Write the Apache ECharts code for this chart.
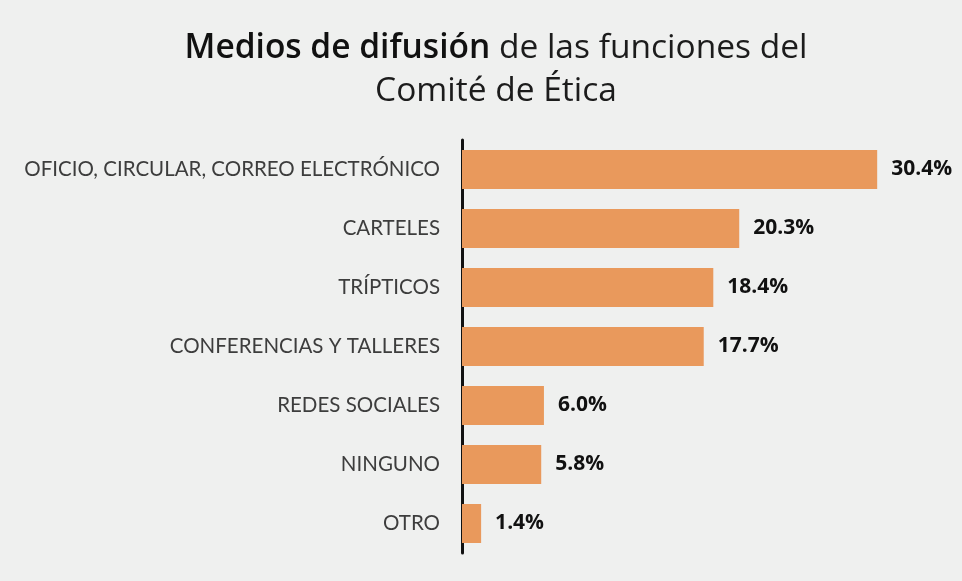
<!DOCTYPE html>
<html>
<head>
<meta charset="utf-8">
<title>Medios de difusión</title>
<script src="https://cdn.jsdelivr.net/npm/echarts@6/dist/echarts.min.js"></script>
<style>
  html, body { margin: 0; padding: 0; background: #eff0ef; }
  #chart { width: 962px; height: 581px; }
</style>
</head>
<body>
<div id="chart"></div>
<script>
// categorías, de arriba hacia abajo
var categorias = [
  'OFICIO, CIRCULAR, CORREO ELECTRÓNICO',
  'CARTELES',
  'TRÍPTICOS',
  'CONFERENCIAS Y TALLERES',
  'REDES SOCIALES',
  'NINGUNO',
  'OTRO'
]
// porcentajes
var porcentajes = [30.4, 20.3, 18.4, 17.7, 6.0, 5.8, 1.4]

var chart = echarts.init(document.getElementById('chart'))

chart.setOption({
  backgroundColor: '#eff0ef',
  title: {
    text: '{b|Medios de difusión} de las funciones del\nComité de Ética',
    left: 491,
    top: 22,
    textAlign: 'center',
    textStyle: {
      fontFamily: 'Open Sans',
      fontSize: 33.5,
      fontWeight: 'normal',
      color: '#1c1c1c',
      lineHeight: 43,
      rich: {
        b: {
          fontFamily: 'Open Sans',
          fontSize: 33.5,
          fontWeight: 600,
          color: '#111',
          lineHeight: 43
        }
      }
    }
  },
  grid: {
    left: 462,
    top: 140,
    width: 478,
    height: 413,
    containLabel: false
  },
  xAxis: {
    type: 'value',
    min: 0,
    max: 35,
    show: false
  },
  yAxis: {
    type: 'category',
    inverse: true,
    data: categorias,
    axisLine: { show: true, lineStyle: { color: '#111', width: 3 } },
    axisTick: { show: false },
    axisLabel: {
      margin: 22,
      fontFamily: 'Lato',
      fontSize: 20.5,
      color: '#3d3d3d'
    }
  },
  series: [{
    type: 'bar',
    data: porcentajes,
    barWidth: 39,
    itemStyle: { color: '#e9995c' },
    label: {
      show: true,
      position: 'right',
      distance: 14,
      fontFamily: 'Open Sans',
      fontWeight: 'bold',
      fontSize: 21,
      color: '#111',
      formatter: function (p) { return p.value.toFixed(1) + '%' }
    }
  }]
})
</script>
</body>
</html>
